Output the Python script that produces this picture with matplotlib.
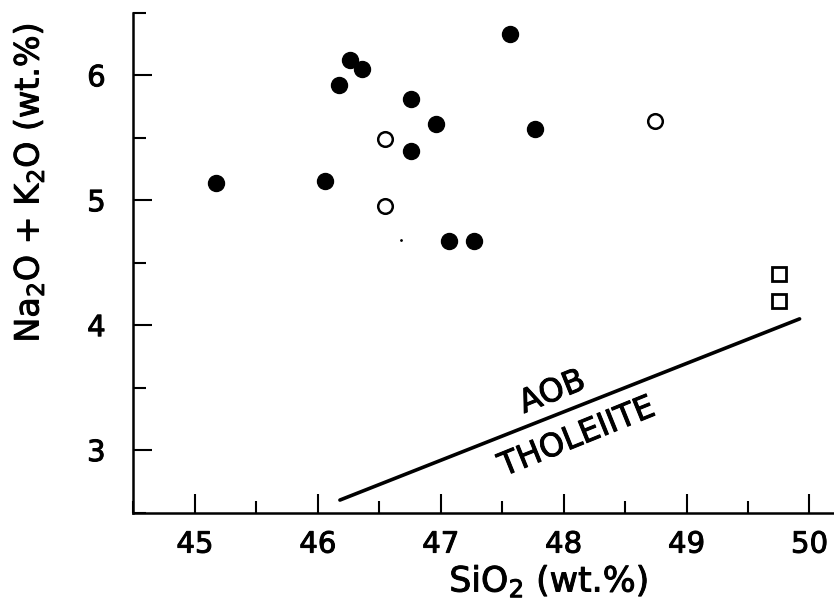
import matplotlib
matplotlib.use("Agg")
import matplotlib.pyplot as plt
import matplotlib.patheffects as pe
import numpy as np

# filled circles
sio2_filled = [45.17, 46.06, 46.17, 46.26, 46.36, 46.76, 46.76, 46.96, 47.07, 47.27, 47.56, 47.77]
alk_filled = [5.14, 5.15, 5.92, 6.12, 6.05, 5.81, 5.39, 5.61, 4.67, 4.67, 6.33, 5.57]

# open circles
sio2_open = [46.55, 46.55, 48.74]
alk_open = [5.49, 4.95, 5.63]

# open squares
sio2_sq = [49.75, 49.75]
alk_sq = [4.41, 4.19]

# AOB / tholeiite divide
div_x = [46.18, 49.92]
div_y = [2.60, 4.05]

xticks_major = [45, 46, 47, 48, 49, 50]
yticks_major = [3, 4, 5, 6]

plt.rcParams['font.family'] = ['DejaVu Sans']
plt.rcParams['mathtext.fontset'] = 'dejavusans'

heavy = [pe.withStroke(linewidth=0.7, foreground='black')]

fig = plt.figure(figsize=(8.34, 6.08), dpi=100)
ax = fig.add_axes([0.160, 0.157, 0.840, 0.822])

ax.plot(div_x, div_y, color='black', lw=2.6, solid_capstyle='round')
ax.plot(sio2_filled, alk_filled, 'o', color='black', ms=11.5, ls='none')
ax.plot(sio2_open, alk_open, 'o', mfc='white', mec='black', mew=1.8, ms=10.5, ls='none')
ax.plot(sio2_sq, alk_sq, 's', mfc='white', mec='black', mew=2.0, ms=10.5, ls='none')
ax.plot([46.68], [4.68], '.', color='black', ms=2)

ax.text(47.91, 3.46, 'AOB', rotation=22, ha='center', va='center',
        fontsize=23, rotation_mode='anchor', path_effects=heavy)
ax.text(48.11, 3.10, 'THOLEIITE', rotation=22, ha='center', va='center',
        fontsize=23, rotation_mode='anchor', path_effects=heavy)

ax.set_xlim(44.5, 50.2)
ax.set_ylim(2.5, 6.5)
ax.set_xticks(xticks_major)
ax.set_xticks(np.arange(44.5, 50.2, 1.0), minor=True)
ax.set_yticks(yticks_major)
ax.set_yticks(np.arange(2.5, 6.6, 1.0), minor=True)

ax.spines['top'].set_visible(False)
ax.spines['right'].set_visible(False)
ax.spines['left'].set_linewidth(1.8)
ax.spines['bottom'].set_linewidth(1.8)

ax.tick_params(which='major', direction='in', length=14, width=1.5, labelsize=21, pad=13)
ax.tick_params(which='minor', direction='in', length=9, width=1.5)
ax.tick_params(axis='y', which='major', pad=20)
for lab in ax.get_xticklabels() + ax.get_yticklabels():
    lab.set_path_effects(heavy)

ax.set_xlabel(r'SiO$_2$ (wt.%)', fontsize=25, path_effects=heavy)
ax.set_ylabel(r'Na$_2$O + K$_2$O (wt.%)', fontsize=24, path_effects=heavy)
ax.xaxis.set_label_coords(0.593, -0.137)
ax.yaxis.set_label_coords(-0.150, 0.66)
ax.xaxis.label.set_va('center')
ax.yaxis.label.set_va('center')

fig.savefig('out.png', dpi=100)
